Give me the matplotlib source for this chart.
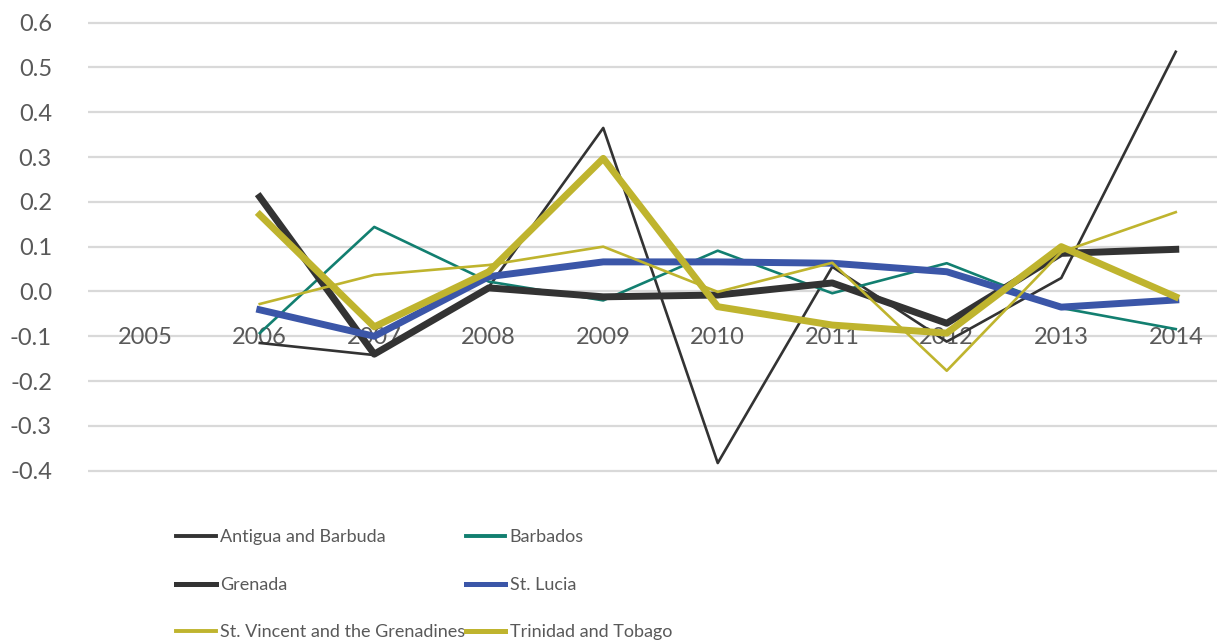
import numpy as np
import matplotlib.pyplot as plt

years = ["2005", "2006", "2007", "2008", "2009", "2010", "2011", "2012", "2013", "2014"]
nan = np.nan
antigua = [nan, -0.115, -0.142, 0.01, 0.365, -0.383, 0.055, -0.112, 0.03, 0.535]
barbados = [nan, -0.093, 0.144, 0.022, -0.02, 0.091, -0.004, 0.063, -0.037, -0.084]
grenada = [nan, 0.211, -0.14, 0.008, -0.012, -0.008, 0.019, -0.071, 0.085, 0.094]
st_lucia = [nan, -0.041, -0.1, 0.033, 0.066, 0.066, 0.063, 0.044, -0.035, -0.019]
st_vincent = [nan, -0.028, 0.037, 0.059, 0.1, -0.001, 0.064, -0.177, 0.088, 0.177]
trinidad = [nan, 0.171, -0.079, 0.044, 0.297, -0.034, -0.075, -0.093, 0.1, -0.012]
y_ticks = [-0.4, -0.3, -0.2, -0.1, 0.0, 0.1, 0.2, 0.3, 0.4, 0.5, 0.6]
y_labels = ["-0.4", "-0.3", "-0.2", "-0.1", "0.0", "0.1", "0.2", "0.3", "0.4", "0.5", "0.6"]

series = [
    ("Antigua and Barbuda", antigua, "#333333", 1.9),
    ("Barbados", barbados, "#127f70", 1.9),
    ("Grenada", grenada, "#333333", 5.0),
    ("St. Lucia", st_lucia, "#3b56a8", 5.0),
    ("St. Vincent and the Grenadines", st_vincent, "#bfb42e", 1.9),
    ("Trinidad and Tobago", trinidad, "#bfb42e", 5.0),
]

plt.rcParams['font.family'] = ['Lato', 'DejaVu Sans']
text_col = "#595959"

fig = plt.figure(figsize=(12.17, 6.44), dpi=100)
ax = fig.add_axes([88 / 1217, 0.2657, 1145 / 1217, 0.7026])

x = np.arange(len(years))
handles = {}
for name, vals, col, lw in series:
    h, = ax.plot(x, vals, color=col, lw=lw, label=name, zorder=3)
    handles[name] = h

ax.set_xlim(-0.5, 9.5)
ax.set_ylim(-0.405, 0.605)
ax.set_yticks(y_ticks)
ax.set_yticklabels(y_labels)
ax.tick_params(axis='y', length=0, pad=26, labelsize=17, labelcolor=text_col)
ax.set_xticks([])
ax.yaxis.grid(True, color="#d9d9d9", lw=1.6, zorder=0)
ax.set_axisbelow(True)
for s in ax.spines.values():
    s.set_visible(False)

for i, yr in enumerate(years):
    ax.text(i, -0.103, yr, ha='center', va='center', fontsize=17,
            color=text_col, zorder=2)

# legend fills by column, so order so that rows read like the original
order = ["Antigua and Barbuda", "Grenada", "St. Vincent and the Grenadines",
         "Barbados", "St. Lucia", "Trinidad and Tobago"]
leg = fig.legend(handles=[handles[n] for n in order], loc='upper left',
                 bbox_to_anchor=(160 / 1217, 1 - 513 / 644),
                 ncol=2, frameon=False, labelcolor=text_col, fontsize=13,
                 handlelength=2.2, handletextpad=0.25, columnspacing=0.0,
                 labelspacing=1.75)
for ln in leg.get_lines():
    ln.set_linewidth(3.6 if ln.get_linewidth() > 3 else 2.8)

fig.savefig("out.png", dpi=100)
